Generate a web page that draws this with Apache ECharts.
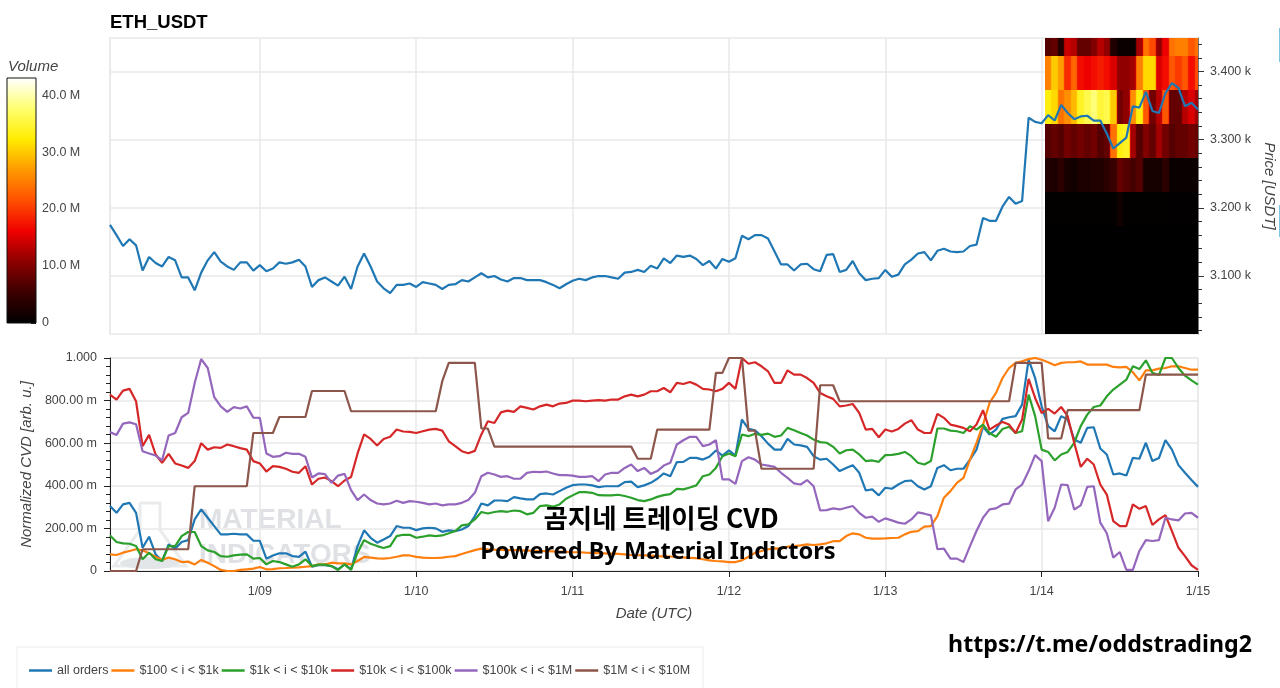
<!DOCTYPE html>
<html><head><meta charset="utf-8">
<style>html,body{margin:0;padding:0;background:#fff;overflow:hidden}#c{width:1280px;height:688px}</style>
<script src="https://cdn.jsdelivr.net/npm/echarts@6/dist/echarts.min.js"></script>
</head><body><div id="c"></div>
<script>
const startHour = Date.UTC(2025,0,8,1);
const priceValues = [3175,3160,3144,3154,3145,3108,3128,3119,3114,3128,3123,3098,3098,3079,3105,3123,3135,3121,3114,3109,3120,3120,3108,3116,3107,3111,3120,3118,3120,3124,3114,3084,3094,3098,3092,3086,3099,3081,3114,3133,3114,3092,3082,3075,3087,3087,3089,3084,
3091,3089,3087,3081,3087,3088,3094,3092,3098,3104,3098,3100,3095,3092,3097,3097,3094,3094,3094,3091,3087,3082,3088,3093,3096,3094,3098,3100,3100,3098,3096,3105,3106,3109,3106,3115,3111,3126,3119,3130,3128,3130,3125,3116,3122,3111,3125,3121,3126,3159,3154,3160,3160,3155,3136,3117,3117,3108,3117,3118,3110,3107,3131,3132,3106,3109,3122,3104,3094,3096,3097,3109,3099,3102,3117,3124,3133,3135,3123,3137,3140,3136,3135,3136,3144,3146,3185,3181,3181,
3202,3216,3206,3210,3332,3326,3324,
3336,3328,3351,3339,3330,3334,3335,3328,3328,3309,3287,3295,3303,3349,3347,3370,3342,3339,3368,3383,3376,3349,3354,3344];
const priceMajorTicks = [3100,3200,3300,3400];
const priceMinorTicks = [3020,3040,3060,3080,3120,3140,3160,3180,3220,3240,3260,3280,3320,3340,3360,3380,3420,3440];
const allOrders = [.305,.273,.313,.32,.273,.109,.161,.078,.047,.125,.105,.136,.145,.242,.289,.25,.211,.172,.172,.175,.172,.172,.142,.142,.058,.073,.083,.083,.07,.066,.091,.02,.027,.027,.023,.008,.031,.008,.117,.191,.156,.133,.148,.164,.211,.203,.203,.192,
.2,.203,.2,.184,.191,.1875,.195,.211,.258,.317,.308,.331,.331,.328,.347,.341,.336,.336,.361,.364,.359,.375,.391,.403,.406,.406,.402,.394,.398,.398,.398,.417,.42,.394,.402,.414,.433,.458,.445,.511,.5125,.531,.531,.523,.536,.566,.542,.566,.542,.711,.667,.661,.633,.598,.57,.57,.62,.594,.59,.583,.539,.523,.527,.5,.469,
.484,.497,.461,.378,.383,.355,.391,.386,.406,.422,.425,.398,.383,.398,.484,.497,.473,.48,.48,.523,.57,.677,.641,.664,.714,.722,.727,.781,.992,.906,.773,.68,.656,.727,.711,.617,.602,.672,.675,.575,.547,.453,.458,.448,.531,.527,.602,.516,.53,.614,.57,.497,.461,.427,.395];
const orders100to1k = [.078,.075,.086,.094,.102,.097,.083,.067,.052,.063,.055,.042,.044,.031,.052,.039,.023,.005,0,0,.005,.008,.011,.019,.008,.009,.013,.014,.016,.017,.02,.023,.031,.031,.039,.036,.036,.031,.047,.066,.063,.059,.058,.061,.067,.073,.073,.066,
.0625,.061,.061,.0625,.067,.07,.08,.089,.098,.105,.102,
.1,.099,.098,.098,.097,.096,.095,.094,.093,.092,.091,.09,
.088,.088,.086,.085,.084,.083,.082,.08,.078,.075,
.074,.073,.072,.07,.069,.068,.066,.064,.062,.06,
.055,.05,.047,.045,.042,.042,.05,.067,.085,
.094,.102,.106,.105,.114,.117,.12,.125,.122,.125,.13,.14,.14,
.164,.177,.172,.156,.152,.152,.153,.155,.156,.172,.184,.1875,.208,.211,.258,.344,.375,.414,.4375,.523,.602,.6875,.789,.836,.906,.953,.977,.984,.995,1,.992,.98,.966,.977,.98,.98,.984,.969,.969,.969,.969,.958,.956,.958,.933,.895,.942,.942,.95,.953,.961,.961,.953,.945,.945];
const orders1kto10k = [.167,.136,.13,.128,.117,.055,.086,.055,.047,.117,.117,.164,.183,.183,.117,.097,.089,.07,.067,.073,.077,.078,.058,.061,.031,.047,.042,.031,.02,.031,.055,.023,.03,.03,.023,.005,.031,.005,.086,.145,.128,.117,.108,.117,.164,.17,.17,.156,
.161,.167,.164,.167,.177,.1875,.214,.219,.242,.277,.27,.277,.281,.278,.284,.281,.266,.273,.305,.308,.302,.3125,.339,.355,.37,.37,.367,.356,.355,.355,.358,.352,.344,.333,.328,.336,.348,.356,.361,.386,.383,.392,.402,.445,.453,.484,.539,.552,.539,.641,.633,.644,.639,.645,.63,.636,.672,.661,.648,.636,.617,.605,.602,.583,.552,
.567,.57,.547,.516,.519,.5125,.544,.545,.55,.559,.539,.508,.5,.516,.669,.669,.659,.656,.648,.68,.664,.6875,.648,.63,.667,.677,.648,.656,.828,.727,.57,.559,.519,.547,.559,.602,.68,.734,.77,.777,.82,.852,.875,.898,.961,.948,.989,.93,.92,1,1,.953,.917,.895,.875];
const orders10kto100k = [.828,.805,.847,.855,.797,.586,.639,.547,.508,.55,.505,.495,.484,.516,.6,.57,.581,.578,.594,.586,.577,.57,.516,.505,.467,.492,.489,.48,.466,.461,.492,.406,.433,.439,.422,.398,.425,.441,.552,.641,.62,.589,.62,.63,.664,.655,.653,.648,
.656,.664,.667,.659,.609,.586,.5625,.553,.564,.641,.703,.695,.745,.753,.747,.773,.766,.758,.773,.781,.773,.786,.789,.8,.8,.797,.8,.802,.8,.805,.805,.82,.828,.82,.828,.844,.844,.859,.839,.883,.878,.8875,.875,.855,.852,.844,.855,.883,.855,1,.973,.98,.961,.9375,.883,.883,.942,.922,.922,.906,.883,.836,.82,.808,.773,
.777,.784,.742,.664,.667,.628,.664,.655,.667,.692,.708,.664,.648,.648,.7375,.719,.6875,.68,.672,.656,.6875,.755,.664,.683,.7,.6875,.648,.711,.902,.8125,.742,.761,.739,.77,.727,.602,.489,.527,.5,.406,.359,.234,.211,.211,.3125,.292,.305,.216,.242,.2625,.1875,.109,.07,.027,.005];
const orders100kto1M = [.652,.639,.692,.698,.689,.562,.552,.542,.52,.636,.648,.722,.742,.883,.995,.953,.816,.773,.747,.769,.763,.773,.72,.719,.552,.536,.539,.555,.55,.55,.536,.439,.458,.455,.414,.448,.456,.38,.333,.359,.333,.317,.313,.317,.33,.32,.328,.325,
.32,.3125,.317,.308,.3125,.3125,.32,.333,.367,.445,.461,.453,.442,.445,.433,.434,.461,.466,.464,.467,.458,.45,.45,.448,.442,.442,.445,.422,.453,.461,.461,.484,.5,.469,.484,.456,.469,.495,.508,.594,.614,.63,.63,.586,.594,.614,.43,.43,.409,.516,.534,.523,.5,.495,.489,.461,.4375,.411,.406,.427,.398,.284,.286,.294,.289,
.297,.305,.273,.25,.255,.231,.247,.2375,.227,.222,.242,.275,.269,.261,.102,.105,.058,.058,.042,.117,.1875,.25,.289,.294,.3125,.316,.383,.406,.469,.544,.516,.234,.297,.406,.403,.289,.308,.395,.398,.227,.177,.0625,.089,.005,.005,.094,.145,.141,.145,.25,.242,.2375,.27,.273,.25];
const orders1Mto10M = [0,0,0,0,0,.102,.102,.102,.102,.102,.102,.102,.102,.398,.398,.398,.398,.398,.398,.398,.398,.398,.648,.648,.648,.648,.723,.723,.723,.723,.723,.845,.845,.845,.845,.845,.845,.75,.75,.75,.75,.75,.75,.75,.75,.75,.75,.75,.75,.75,.75,.891,.977,.977,.977,.977,.977,.669,.669,
.584,.584,.584,.584,.584,.584,.584,.584,.584,.584,.584,.584,.584,.584,.584,.584,.584,.584,.584,.584,.584,.584,.527,.527,.527,.664,.664,.664,.664,.664,.664,.664,.664,.664,.93,.93,1,1,1,.659,.659,.48,.48,.48,.48,.48,.48,.48,.48,.48,.872,.872,.872,
.797,.797,.797,.797,.797,.797,.797,.797,.797,.797,.797,.797,.797,.797,.797,.797,.797,.797,.797,.797,.797,.797,.797,.797,.797,.797,.797,.977,.977,.977,.977,.977,.622,.622,.622,.755,.755,.755,.755,.755,.755,.755,.755,.755,.755,.755,.755,.922,.922,.922,.922,.922,.922,.922,.922,.922];
const heatFirstHourIndex = 144;
const heatRowEdges = [3449,3423,3373,3323,3273,3223,3173,3123,3073,3023,3015];
const heatRow1 = [7,8,3,14,13,8,8,10,13,11,3,1,1,1,12,24,21,11,16,24,25,25,22,24];
const heatRow2 = [25,30,27,19,23,17,16,17,18,17,15,11,11,12,25,31,31,15,17,22,20,22,17,21];
const heatRow3 = [33,31,24,26,29,34,36,38,35,36,30,9,11,26,33,22,9,13,22,8,8,13,15,12];
const heatRow4 = [7,8,7,9,8,9,8,9,7,8,24,33,34,12,7,10,8,12,9,7,8,8,9,8];
const heatRow5 = [3,2.5,4,2,1.5,2.5,2.5,3,3,4,5,8,7,6,7,2,2,2,4,1,1,1,1,1];
const heatRow6 = [.3,.3,.3,.3,.3,.3,.3,.3,.3,.3,.4,1.5,.4,.3,.3,.3,.3,.3,.3,.2,.2,.2,.2,.2];
const heatRow7 = [0,0,0,0,0,0,0,0,0,0,0,0,0,0,0,0,0,0,0,0,0,0,0,0];
const heatRow8 = [0,0,0,0,0,0,0,0,0,0,0,0,0,0,0,0,0,0,0,0,0,0,0,0];
const heatRow9 = [0,0,0,0,0,0,0,0,0,0,0,0,0,0,0,0,0,0,0,0,0,0,0,0];
const heatRow10 = [0,0,0,0,0,0,0,0,0,0,0,0,0,0,0,0,0,0,0,0,0,0,0,0];
const volumeTicksMax = 43;
const hotColors = ['#000000','#3c0000','#8c0000','#f00000','#ff5000','#ff9a00','#ffec00','#ffff70','#ffffff'];
const seriesNames = ['all orders','$100 < i < $1k','$1k < i < $10k','$10k < i < $100k','$100k < i < $1M','$1M < i < $10M'];
const seriesColors = ['#1f77b4','#ff7f0e','#2ca02c','#d62728','#9467bd','#8c564b'];
const seriesValues = [allOrders,orders100to1k,orders1kto10k,orders10kto100k,orders100kto1M,orders1Mto10M];

const HOUR = 3600000, DAY = 24*HOUR;
const tOf = i => startHour + i*HOUR;
const xMin = tOf(0), xMax = tOf(167);
const heatRows = [heatRow1,heatRow2,heatRow3,heatRow4,heatRow5,heatRow6,heatRow7,heatRow8,heatRow9,heatRow10];
const heatData = [];
heatRows.forEach((row,r)=>row.forEach((v,c)=>{
  const prev=row[Math.max(c-1,0)], next=row[Math.min(c+1,row.length-1)];
  heatData.push([tOf(heatFirstHourIndex+c-.5),Math.min(tOf(heatFirstHourIndex+c+.5),xMax),heatRowEdges[r+1],heatRowEdges[r],v,prev,next]);
}));
const volColor = v => echarts.color.lerp(v/volumeTicksMax, hotColors);
const FONT='"Liberation Sans",Arial,sans-serif';
const tickC='#444', lightC='#e9e9e9';
const nameStyle={fontFamily:FONT,fontSize:15,fontStyle:'italic',color:'#444'};
function dayLabel(v){const d=new Date(v);if(d.getUTCHours()!==0)return '';const dd=d.getUTCDate();return (d.getUTCMonth()+1)+'/'+(dd<10?'0':'')+dd;}
function cvdLabel(v){if(v===0)return '0';if(v===1)return '1.000';return (v*1000).toFixed(2)+' m';}
const timeAxisBase={type:'time',min:xMin,max:xMax,minInterval:DAY,maxInterval:DAY,splitLine:{show:true,lineStyle:{color:lightC,width:1.5}},minorTick:{show:false}};

const option={
  useUTC:true,animation:false,backgroundColor:'#fff',
  title:{text:'ETH_USDT',left:110,top:13,padding:0,textStyle:{fontFamily:FONT,fontSize:18.5,fontWeight:'bold',color:'#000'}},
  legend:{left:17,top:647,padding:[17,13,15,12],itemGap:3,itemWidth:23,itemHeight:2.5,icon:'rect',borderColor:'#ececec',borderWidth:1,backgroundColor:'#fff',
    textStyle:{fontFamily:FONT,fontSize:12.5,color:'#444'},data:seriesNames},
  grid:[
    {left:110,right:82,top:38,height:296,show:true,borderColor:lightC,borderWidth:1.5,outerBoundsMode:'none'},
    {left:110,right:82,top:358,height:213,show:true,borderColor:lightC,borderWidth:1.5,outerBoundsMode:'none'},
    {left:7,width:29,top:78,height:245,show:true,borderColor:'#111',borderWidth:1,z:5,outerBoundsMode:'none'}
  ],
  xAxis:[
    Object.assign({},timeAxisBase,{gridIndex:0,axisLine:{show:false},axisTick:{show:false},axisLabel:{show:false}}),
    Object.assign({},timeAxisBase,{gridIndex:1,position:'bottom',axisLine:{onZero:false,lineStyle:{color:'#222'}},axisTick:{length:6,lineStyle:{color:'#222'}},
      axisLabel:{formatter:dayLabel,fontFamily:FONT,fontSize:12.5,color:tickC,margin:14,showMinLabel:false,showMaxLabel:true,hideOverlap:false},
      name:'Date (UTC)',nameLocation:'middle',nameGap:35,nameTextStyle:nameStyle}),
    {type:'category',gridIndex:2,data:['Volume'],axisLine:{show:false},axisTick:{show:false},axisLabel:{show:false},splitLine:{show:false}}
  ],
  yAxis:[
    {type:'value',gridIndex:0,position:'right',min:3015,max:3449,
      axisLine:{show:true,lineStyle:{color:'#777'}},axisTick:{show:true,length:6,customValues:priceMajorTicks,lineStyle:{color:'#333'}},
      axisLabel:{customValues:priceMajorTicks,formatter:v=>(v/1000).toFixed(3)+' k',fontFamily:FONT,fontSize:12.5,color:tickC,margin:12},
      splitLine:{show:true,lineStyle:{color:lightC,width:1.5}},
      name:'Price [USDT]',nameLocation:'middle',nameRotate:-90,nameGap:61,nameTextStyle:nameStyle},
    {type:'value',gridIndex:1,position:'left',min:0,max:1,interval:.2,
      axisLine:{show:true,onZero:false,lineStyle:{color:'#222'}},axisTick:{show:true,length:6,lineStyle:{color:'#222'}},minorTick:{show:true,splitNumber:5,length:4,lineStyle:{color:'#222'}},
      axisLabel:{formatter:cvdLabel,fontFamily:FONT,fontSize:12.5,color:tickC,margin:13},
      splitLine:{show:true,lineStyle:{color:lightC,width:1.5}},
      name:'Normalized CVD [arb. u.]',nameLocation:'middle',nameRotate:90,nameGap:74,nameTextStyle:nameStyle},
    {type:'value',gridIndex:2,position:'right',min:0,max:volumeTicksMax,interval:10,
      axisLine:{show:false},axisTick:{show:true,inside:true,length:5,lineStyle:{color:'#222'}},
      axisLabel:{formatter:v=>v===0?'0':(v>=volumeTicksMax?'':v.toFixed(1)+' M'),fontFamily:FONT,fontSize:12.5,color:tickC,margin:6,showMaxLabel:false},
      splitLine:{show:false}},
    {type:'value',gridIndex:0,position:'right',min:3015,max:3449,
      axisLine:{show:false},axisTick:{show:true,length:4,customValues:priceMinorTicks,lineStyle:{color:'#333'}},axisLabel:{show:false},splitLine:{show:false}}
  ],
  series:[
    {type:'custom',name:'Volume heatmap',xAxisIndex:0,yAxisIndex:0,clip:true,z:1,silent:true,
      encode:{x:[0,1],y:[2,3]},data:heatData,
      renderItem:(params,api)=>{
        const a=api.coord([api.value(0),api.value(3)]),b=api.coord([api.value(1),api.value(2)]);
        const x0=Math.round(a[0]),y0=Math.round(a[1]),x1=Math.round(b[0]),y1=Math.round(b[1]);
        const v=api.value(4),p=api.value(5),n=api.value(6);
        return {type:'rect',shape:{x:x0,y:y0,width:x1-x0,height:y1-y0},style:{fill:{type:'linear',x:0,y:0,x2:1,y2:0,colorStops:[
          {offset:0,color:volColor(.25*p+.75*v)},{offset:.2,color:volColor(v)},{offset:.8,color:volColor(v)},{offset:1,color:volColor(.25*n+.75*v)}]}}};
      }},
    {type:'line',name:'price',xAxisIndex:0,yAxisIndex:0,z:3,symbol:'none',lineStyle:{color:'#1f77b4',width:2.2},data:priceValues.map((v,i)=>[tOf(i),v])},
    ...seriesNames.map((n,k)=>({type:'line',name:n,xAxisIndex:1,yAxisIndex:1,symbol:'none',clip:true,z:3+k,
      itemStyle:{color:seriesColors[k]},lineStyle:{color:seriesColors[k],width:2.2},data:seriesValues[k].map((v,i)=>[tOf(i),v])})),
    {type:'bar',name:'Volume scale',xAxisIndex:2,yAxisIndex:2,barWidth:'100%',silent:true,z:1,data:[volumeTicksMax],
      itemStyle:{color:{type:'linear',x:0,y:1,x2:0,y2:0,colorStops:hotColors.map((c,i)=>({offset:i/(hotColors.length-1),color:c}))}}}
  ],
  graphic:[
    {type:'text',x:8,y:67,style:{text:'Volume',font:'italic 15px '+FONT,fill:'#444',textVerticalAlign:'middle'}},
    {type:'polyline',z:0,shape:{points:[[140,503],[160,503],[160,530],[186,566],[114,566],[140,530],[140,503]]},style:{stroke:'#e9ebec',lineWidth:3,fill:'none'}},
    {type:'ellipse',z:0,shape:{cx:150,cy:563,rx:30,ry:6},style:{fill:'#e2e6e8'}},
    {type:'text',z:0,x:199,y:520,style:{text:'MATERIAL',font:'bold 28px '+FONT,fill:'#dfe1e4',textVerticalAlign:'middle'}},
    {type:'text',z:0,x:199,y:555,style:{text:'INDICATORS',font:'bold 28px '+FONT,fill:'#dfe1e4',textVerticalAlign:'middle'}},
    {type:'text',z:100,x:661,y:518,style:{text:'곰지네 트레이딩 CVD',font:'bold 26.5px "Noto Sans CJK KR","Noto Sans"',fill:'#000',textAlign:'center',textVerticalAlign:'middle'}},
    {type:'text',z:100,x:658,y:552,style:{text:'Powered By Material Indictors',font:'bold 23.6px "Noto Sans","Noto Sans CJK KR"',fill:'#000',textAlign:'center',textVerticalAlign:'middle'}},
    {type:'text',z:100,x:1100,y:645,style:{text:'https://t.me/oddstrading2',font:'bold 23.2px "Noto Sans"',fill:'#000',textAlign:'center',textVerticalAlign:'middle'}},
    {type:'rect',z:100,shape:{x:1279,y:28,width:1,height:34},style:{fill:'#7cc4e4'}},
    {type:'rect',z:100,shape:{x:1279,y:205,width:1,height:32},style:{fill:'#7cc4e4'}}
  ]
};
const chart=echarts.init(document.getElementById('c'),null,{renderer:'canvas'});
chart.setOption(option);
</script></body></html>
